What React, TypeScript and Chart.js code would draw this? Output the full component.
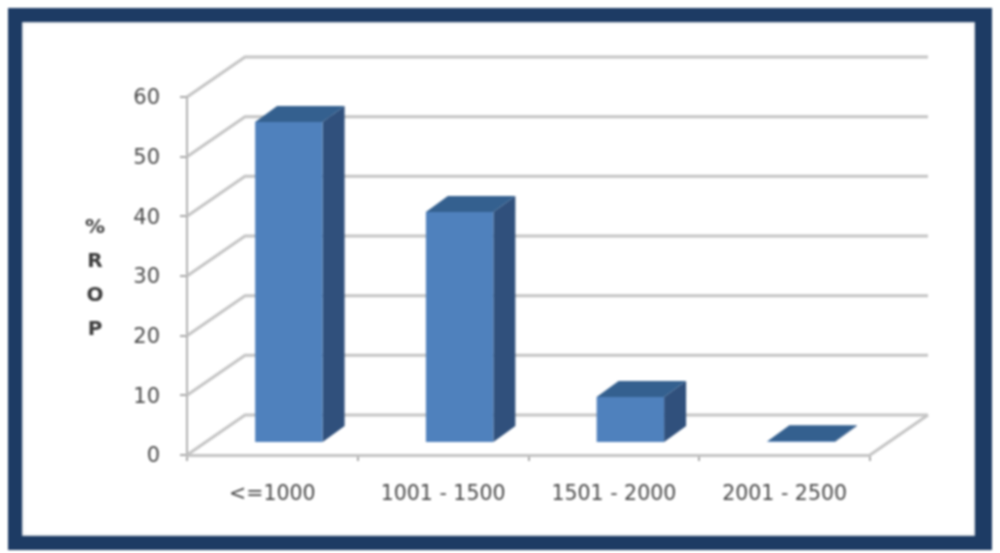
import React, { useEffect, useRef } from "react";
import { Chart, registerables } from "chart.js";

Chart.register(...registerables);

const categories = ["<=1000", "1001 - 1500", "1501 - 2000", "2001 - 2500"];
const ropValues = [53.8, 38.7, 7.7, 0.3];
const yTitleLetters = ["%", "R", "O", "P"];

const WALL_DX = 58;
const WALL_DY = -40;
const BAR_DX = 16.5;
const BAR_DY = -12;
const SIDE_DX = 22;
const SIDE_DY = -16;

const GRID = "#c4c4c4";
const FRONT = "#4f81bd";
const SIDE = "#30507c";
const TOP = "#34608f";
const TEXT = "#484848";

function poly(ctx: CanvasRenderingContext2D, pts: number[][], fill: string) {
  ctx.beginPath();
  pts.forEach(([x, y], i) => (i ? ctx.lineTo(x, y) : ctx.moveTo(x, y)));
  ctx.closePath();
  ctx.fillStyle = fill;
  ctx.fill();
}

const chart3d = {
  id: "chart3d",
  beforeDatasetsDraw(chart: any) {
    const { ctx, chartArea, scales } = chart;
    const { left, right, bottom } = chartArea;
    ctx.save();
    ctx.lineWidth = 3;
    ctx.strokeStyle = GRID;
    scales.y.ticks.forEach((t: any) => {
      const y = scales.y.getPixelForValue(t.value);
      ctx.beginPath();
      ctx.moveTo(left, y);
      ctx.lineTo(left + WALL_DX, y + WALL_DY);
      ctx.lineTo(right + WALL_DX, y + WALL_DY);
      ctx.stroke();
    });
    ctx.beginPath();
    ctx.moveTo(right, bottom);
    ctx.lineTo(right + WALL_DX, bottom + WALL_DY);
    ctx.stroke();
    ctx.restore();

    // y axis title, stacked letter by letter
    ctx.save();
    ctx.font = "bold 20px 'DejaVu Sans'";
    ctx.fillStyle = "#3c3c3c";
    ctx.textAlign = "center";
    ctx.textBaseline = "middle";
    yTitleLetters.forEach((ch, i) => ctx.fillText(ch, 95, 228 + i * 34));
    ctx.restore();
  },
  beforeDatasetDraw(chart: any, args: any) {
    const { ctx } = chart;
    const meta = chart.getDatasetMeta(args.index);
    ctx.save();
    ctx.translate(BAR_DX, BAR_DY);
    meta.data.forEach((bar: any) => {
      const l = bar.x - bar.width / 2;
      const r = bar.x + bar.width / 2;
      poly(ctx, [[r, bar.y], [r + SIDE_DX, bar.y + SIDE_DY], [r + SIDE_DX, bar.base + SIDE_DY], [r, bar.base]], SIDE);
      poly(ctx, [[l, bar.y], [l + SIDE_DX, bar.y + SIDE_DY], [r + SIDE_DX, bar.y + SIDE_DY], [r, bar.y]], TOP);
    });
  },
  afterDatasetDraw(chart: any) {
    chart.ctx.restore();
  },
};

export default function App() {
  const ref = useRef<HTMLCanvasElement>(null);
  useEffect(() => {
    const chart = new Chart(ref.current!, {
      type: "bar",
      data: {
        labels: categories,
        datasets: [
          {
            label: "% ROP",
            data: ropValues,
            backgroundColor: FRONT,
            barPercentage: 0.395,
            categoryPercentage: 1,
          },
        ],
      },
      plugins: [chart3d],
      options: {
        animation: false,
        responsive: false,
        devicePixelRatio: 1,
        layout: { padding: { left: 127, top: 97, right: 130, bottom: 38 } },
        plugins: { legend: { display: false }, tooltip: { enabled: false } },
        scales: {
          x: {
            afterFit: (s: any) => { s.height = 60; },
            grid: { drawOnChartArea: false, drawTicks: true, tickLength: 6, color: "#a8a8a8", lineWidth: 2 },
            border: { color: GRID, width: 3 },
            ticks: { color: TEXT, padding: 21, maxRotation: 0, font: { family: "'DejaVu Sans'", size: 20.5 } },
          },
          y: {
            min: 0,
            max: 60,
            afterFit: (s: any) => { s.width = 60; },
            grid: { drawOnChartArea: false, drawTicks: true, tickLength: 7, color: "#a8a8a8", lineWidth: 2 },
            border: { color: "#b0b0b0", width: 2 },
            ticks: { stepSize: 10, color: TEXT, padding: 20, labelOffset: 2, font: { family: "'DejaVu Sans'", size: 21 } },
          },
        },
      },
    });
    return () => chart.destroy();
  }, []);
  return (
    <div style={{ position: "absolute", left: 0, top: 0, width: 1000, height: 553, background: "#fff", overflow: "hidden" }}>
      <div style={{ position: "absolute", inset: 0, filter: "blur(1.1px)" }}>
        <canvas ref={ref} width={1000} height={553} style={{ position: "absolute", left: 0, top: 0 }} />
        <div
          style={{
            position: "absolute",
            left: 8,
            top: 8,
            width: 984,
            height: 542,
            boxSizing: "border-box",
            border: "14px solid #1d3b64",
            borderRightWidth: 17,
            boxShadow: "inset 0 0 3px #9aa5b5",
          }}
        />
      </div>
    </div>
  );
}
